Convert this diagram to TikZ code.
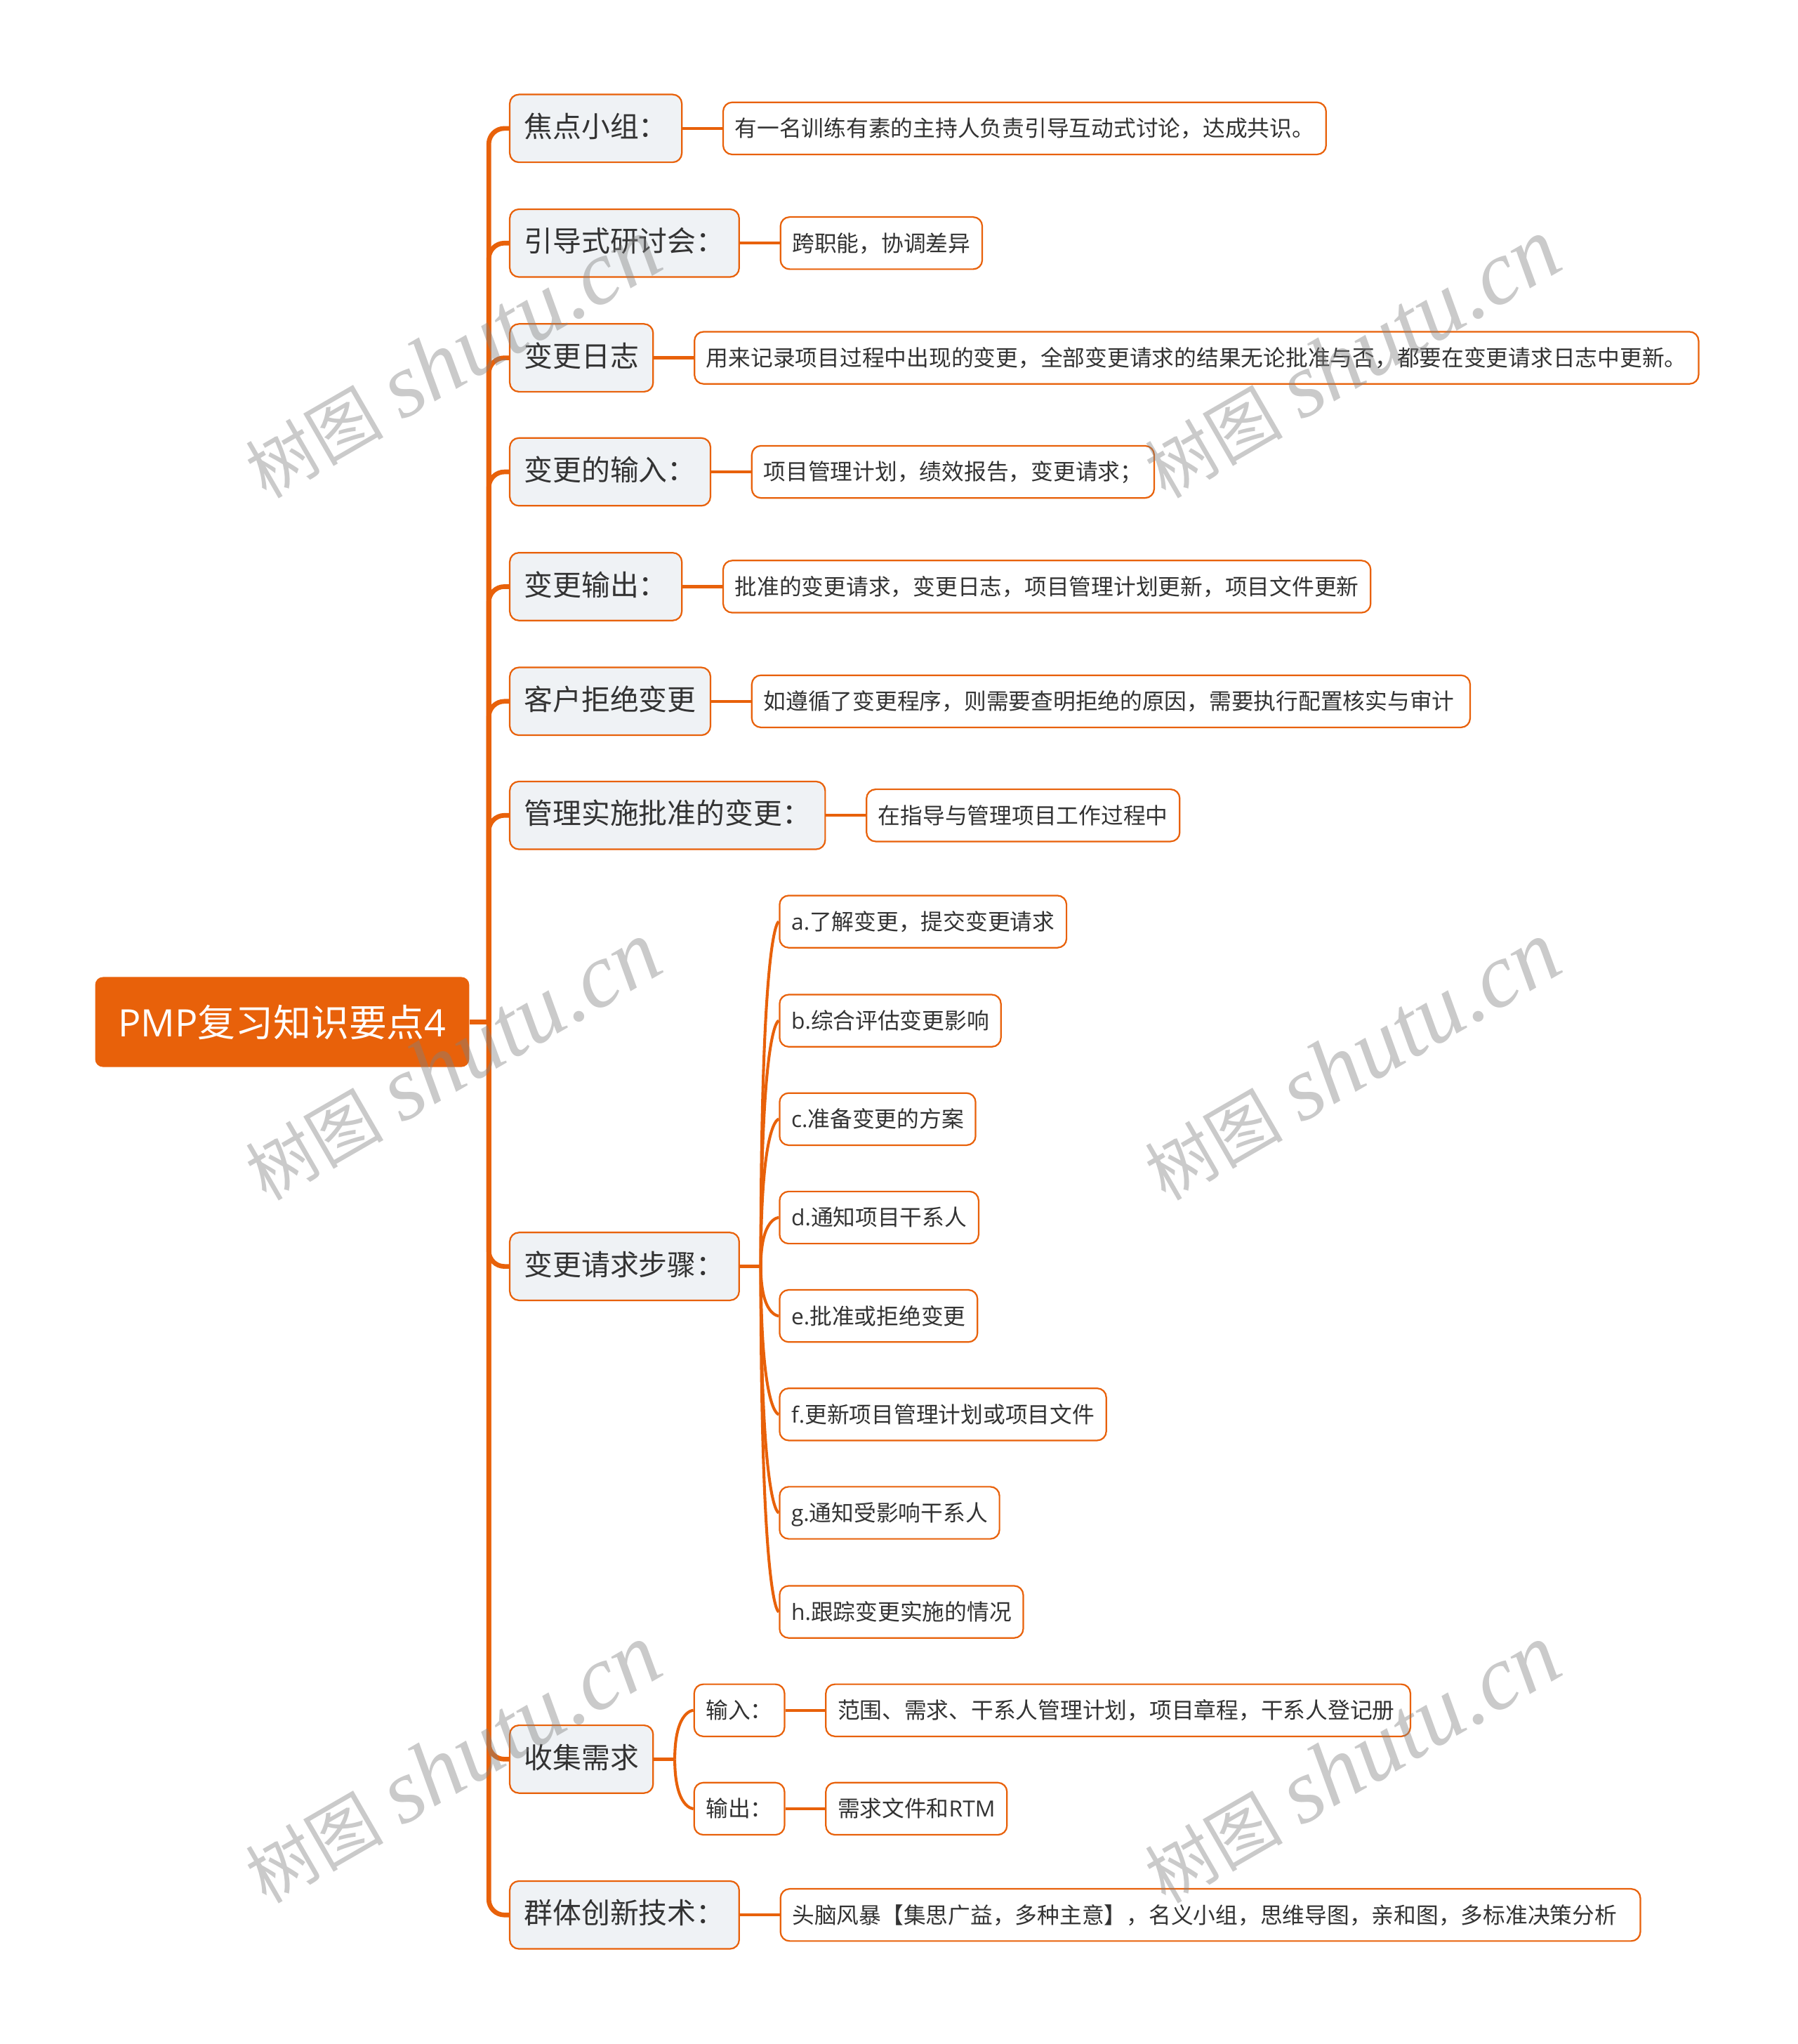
\documentclass[tikz,border=0pt]{standalone}
\usepackage{fontspec}
\setmainfont{Noto Sans CJK SC}
\newfontfamily\latinfont{Open Sans}
\newfontfamily\markcjk[AutoFakeSlant=0.25]{Noto Sans CJK SC}
\newfontfamily\marklatin{Liberation Serif}[ItalicFont=Liberation Serif Italic]
\usetikzlibrary{positioning}
\definecolor{mapline}{HTML}{E8610A}
\definecolor{mapfill}{HTML}{EFF2F5}
\definecolor{mapink}{HTML}{333333}
\newcommand{\la}[1]{{\latinfont #1}}
\tikzset{
  root/.style={
    rounded corners=6pt, fill=mapline, text=white,
    minimum height=69pt, minimum width=287pt, inner xsep=0pt,
    font=\fontsize{29}{29}\selectfont,
  },
  topic/.style={
    draw=mapline, line width=1.2pt, rounded corners=7pt,
    fill=mapfill, text=mapink, anchor=west,
    minimum height=52pt, inner xsep=11pt, inner ysep=0pt,
    text height=1.5em, text depth=0.14em,
    font=\fontsize{22}{22}\selectfont,
  },
  leaf/.style={
    draw=mapline, line width=1.2pt, rounded corners=7pt,
    fill=white, text=mapink, anchor=west,
    minimum height=40pt, inner xsep=9pt, inner ysep=0pt,
    text height=1.42em, text depth=0.14em,
    font=\fontsize{17.1}{17.1}\selectfont,
  },
  trunk/.style={draw=mapline, line width=3.6pt, rounded corners=12pt},
  stub/.style={draw=mapline, line width=2.4pt},
  twig/.style={draw=mapline, line width=2.2pt},
  stamp/.style={
    rotate=30, text=gray, opacity=0.42,
  },
}
\pgfdeclarelayer{fore}
\pgfsetlayers{main, fore}

\begin{document}
\begin{tikzpicture}[x=1pt, y=-1pt]
\useasboundingbox (0,0) rectangle (1379,1568);

\node[root] (root) at (216.5,784) {\la{PMP}复习知识要点\la{4}};
\coordinate (spine) at (375,784);

\node[topic] (t-1) at (390.5,98.5) {焦点小组：};
\node[topic] (t-2) at (390.5,186.5) {引导式研讨会：};
\node[topic] (t-3) at (390.5,274.5) {变更日志};
\node[topic] (t-4) at (390.5,362) {变更的输入：};
\node[topic] (t-5) at (390.5,450) {变更输出：};
\node[topic] (t-6) at (390.5,538) {客户拒绝变更};
\node[topic] (t-7) at (390.5,625.5) {管理实施批准的变更：};
\node[topic] (t-8) at (390.5,971.5) {变更请求步骤：};
\node[topic] (t-9) at (390.5,1349.5) {收集需求};
\node[topic] (t-10) at (390.5,1469) {群体创新技术：};

\node[leaf, right=30.5pt of t-1] (n-1) {有一名训练有素的主持人负责引导互动式讨论，达成共识。};
\node[leaf, right=30.5pt of t-2] (n-2) {跨职能，协调差异};
\node[leaf, right=30.5pt of t-3] (n-3) {用来记录项目过程中出现的变更，全部变更请求的结果无论批准与否，都要在变更请求日志中更新。};
\node[leaf, right=30.5pt of t-4] (n-4) {项目管理计划，绩效报告，变更请求；};
\node[leaf, right=30.5pt of t-5] (n-5) {批准的变更请求，变更日志，项目管理计划更新，项目文件更新};
\node[leaf, right=30.5pt of t-6] (n-6) {如遵循了变更程序，则需要查明拒绝的原因，需要执行配置核实与审计\hspace*{3pt}};
\node[leaf, right=30.5pt of t-7] (n-7) {在指导与管理项目工作过程中};
\node[leaf, right=30.5pt of t-10] (n-10) {头脑风暴【集思广益，多种主意】，名义小组，思维导图，亲和图，多标准决策分析\hspace*{9pt}};

\node[leaf] (s-1) at (597.5,707) {\la{a.}了解变更，提交变更请求};
\node[leaf] (s-2) at (597.5,783) {\la{b.}综合评估变更影响};
\node[leaf] (s-3) at (597.5,858.5) {\la{c.}准备变更的方案};
\node[leaf] (s-4) at (597.5,934) {\la{d.}通知项目干系人};
\node[leaf] (s-5) at (597.5,1009.5) {\la{e.}批准或拒绝变更};
\node[leaf] (s-6) at (597.5,1085) {\la{f.}更新项目管理计划或项目文件};
\node[leaf] (s-7) at (597.5,1160.5) {\la{g.}通知受影响干系人};
\node[leaf] (s-8) at (597.5,1236.5) {\la{h.}跟踪变更实施的情况};

\node[leaf] (q-1) at (532,1312) {输入：};
\node[leaf] (q-2) at (532,1387.5) {输出：};
\node[leaf, right=30.5pt of q-1] (r-1) {范围、需求、干系人管理计划，项目章程，干系人登记册\hspace*{3pt}};
\node[leaf, right=30.5pt of q-2] (r-2) {需求文件和\la{RTM}};

\draw[trunk] (root.east) -- (spine);
\foreach \i in {1,...,10}
  \draw[trunk] (spine) |- (t-\i.west);
\foreach \i in {1,...,7,10}
  \draw[stub] (t-\i.east) -- (n-\i.west);
\foreach \i in {1,2}
  \draw[stub] (q-\i.east) -- (r-\i.west);

\coordinate[right=16pt of t-8.east] (fork8);
\coordinate[right=16pt of t-9.east] (fork9);
\draw[stub] (t-8.east) -- (fork8);
\draw[stub] (t-9.east) -- (fork9);
\foreach \i in {1,...,8}
  \draw[twig] (fork8) .. controls (fork8 |- s-\i.west) and (s-\i.west) .. (s-\i.west);
\foreach \i in {1,2}
  \draw[twig] (fork9) .. controls (fork9 |- q-\i.west) and (q-\i.west) .. (q-\i.west);

\begin{pgfonlayer}{fore}
  \foreach \mx/\my [count=\k] in {347/275, 1037/275, 347/814, 1037/814, 347/1353, 1037/1353}
    \node[stamp] (mark-\k) at (\mx,\my) {{\fontsize{53}{53}\markcjk 树图}\hspace{14pt}{\fontsize{70}{70}\marklatin\itshape shutu.cn}};
\end{pgfonlayer}
\end{tikzpicture}
\end{document}
